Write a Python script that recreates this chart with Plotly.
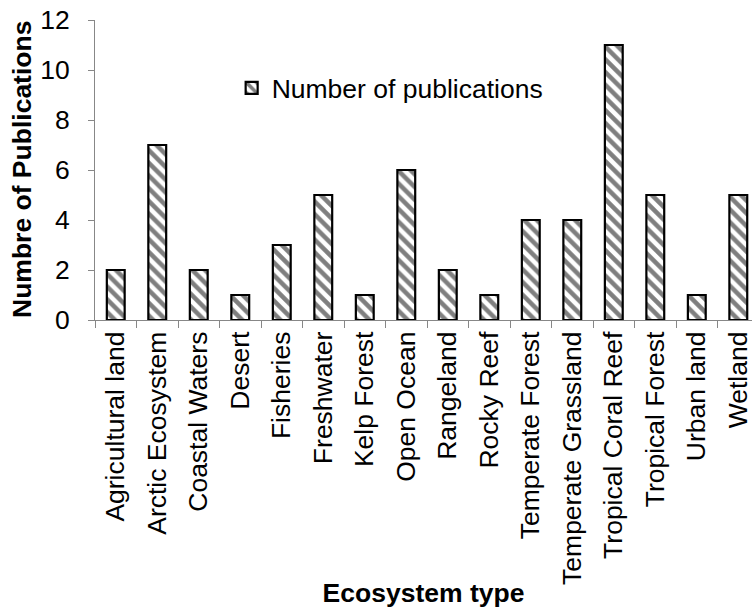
import plotly.graph_objects as go

ecosystems = [
    "Agricultural land", "Arctic Ecosystem", "Coastal Waters", "Desert",
    "Fisheries", "Freshwater", "Kelp Forest", "Open Ocean", "Rangeland",
    "Rocky Reef", "Temperate Forest", "Temperate Grassland",
    "Tropical Coral Reef", "Tropical Forest", "Urban land", "Wetland",
]
publications = [2, 7, 2, 1, 3, 5, 1, 6, 2, 1, 4, 4, 11, 5, 1, 5]
y_ticks = [0, 2, 4, 6, 8, 10, 12]

FONT = "Liberation Sans, Arial, sans-serif"
FS = 26.5
AXIS_GREY = "#878787"

fig = go.Figure()
fig.add_trace(
    go.Bar(
        x=ecosystems,
        y=publications,
        name="Number of publications",
        width=0.43,
        marker=dict(
            color="white",
            line=dict(color="black", width=2.2),
            pattern=dict(shape="\\", fgcolor="black", bgcolor="white",
                         size=9, solidity=0.5),
        ),
    )
)
# transparent copy on the companion axis so its tick marks get drawn
fig.add_trace(
    go.Scatter(
        x=ecosystems,
        y=publications,
        yaxis="y2",
        mode="markers",
        marker=dict(opacity=0),
        showlegend=False,
        hoverinfo="skip",
    )
)

fig.update_layout(
    width=752,
    height=608,
    margin=dict(l=95, r=0, t=20, b=288),
    paper_bgcolor="white",
    plot_bgcolor="white",
    font=dict(family=FONT, size=FS, color="black"),
    showlegend=True,
    legend=dict(
        x=0.208, y=0.773, xanchor="left", yanchor="middle",
        bgcolor="rgba(0,0,0,0)", font=dict(size=FS),
        itemwidth=30,
    ),
    xaxis=dict(
        type="category",
        range=[-0.5, 15.33],
        tickangle=-90,
        tickson="boundaries",
        ticks="outside",
        ticklen=7,
        tickcolor=AXIS_GREY,
        showline=True,
        linecolor=AXIS_GREY,
        linewidth=1,
        showgrid=False,
        automargin=False,
        tickfont=dict(size=FS),
        title=dict(text="<b>Ecosystem type</b>", font=dict(size=FS), standoff=7),
    ),
    # labelled value axis; its long invisible ticks set the label gap
    yaxis=dict(
        range=[0, 12],
        tickvals=y_ticks,
        ticks="outside",
        ticklen=19,
        tickcolor="rgba(0,0,0,0)",
        showline=True,
        linecolor=AXIS_GREY,
        linewidth=1,
        showgrid=False,
        zeroline=False,
        automargin=False,
        tickfont=dict(size=FS),
    ),
    # companion axis that draws the short visible tick marks
    yaxis2=dict(
        overlaying="y",
        side="left",
        range=[0, 12],
        tickvals=y_ticks,
        ticks="outside",
        ticklen=6,
        tickcolor=AXIS_GREY,
        showticklabels=False,
        showline=False,
        showgrid=False,
        zeroline=False,
        automargin=False,
    ),
    annotations=[
        dict(
            text="<b>Numbre of Publications</b>",
            xref="paper", yref="paper", x=0, y=0.5,
            xanchor="center", yanchor="middle",
            xshift=-73, textangle=-90, showarrow=False,
            font=dict(size=FS),
        )
    ],
)

fig.write_html("out.html")
